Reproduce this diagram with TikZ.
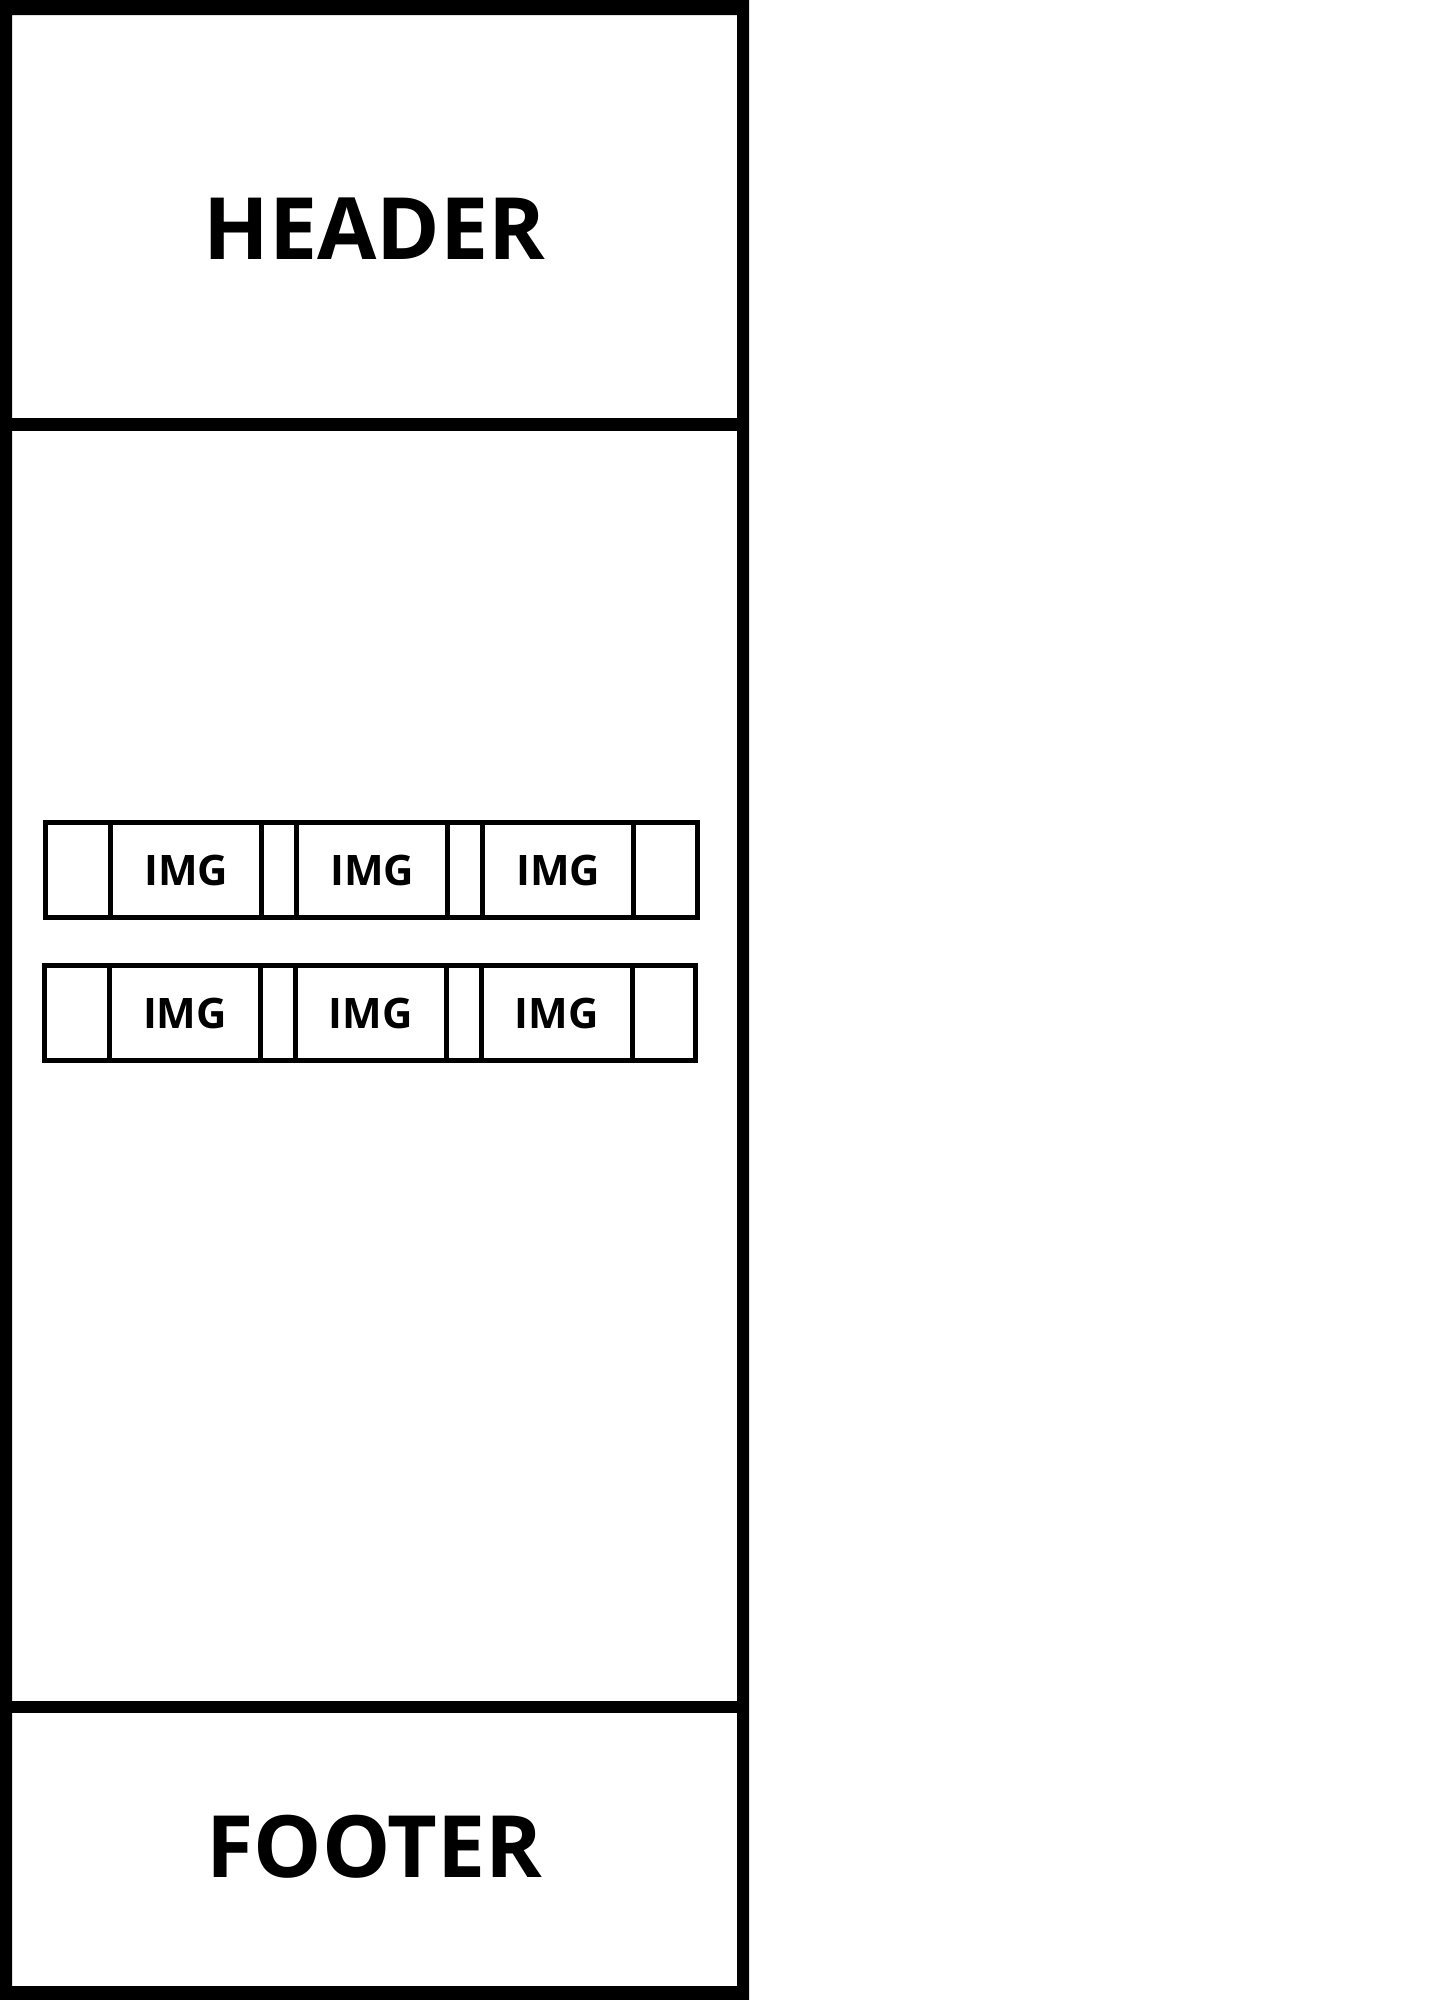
\documentclass[tikz,border=0pt]{standalone}
\usepackage{fontspec}
\setmainfont{Open Sans}
\begin{document}
\begin{tikzpicture}[x=1pt,y=-1pt,
  bigtext/.style={inner sep=0pt,font=\fontsize{86}{86}\selectfont\bfseries},
  imgbox/.style={draw,line width=5pt,minimum width=151pt,minimum height=95pt,inner sep=0pt,
    font=\fontsize{42}{42}\selectfont\bfseries},
  rowframe/.style={draw,line width=5pt}]
\useasboundingbox (0,0) rectangle (1428,2000);
% outer frame
\fill[even odd rule] (0,0) rectangle (749,2000) (12,15) rectangle (737,1986);
% dividers
\fill (12,418) rectangle (737,431);
\fill (12,1701) rectangle (737,1713);
% labels
\node[bigtext] (header) at (374.5,228.5) {HEADER};
\node[bigtext] (footer) at (374.5,1846.5) {FOOTER};
% row 1
\draw[rowframe] (45.8,822.5) rectangle (697.5,917.5);
\node[imgbox] (a1) at (186.15,870) {IMG};
\node[imgbox] (a2) at (372.25,870) {IMG};
\node[imgbox] (a3) at (558.25,870) {IMG};
% row 2
\draw[rowframe] (44.2,965.8) rectangle (695.2,1060.8);
\node[imgbox] (b1) at (185,1013.3) {IMG};
\node[imgbox] (b2) at (370.8,1013.3) {IMG};
\node[imgbox] (b3) at (556.65,1013.3) {IMG};
\end{tikzpicture}
\end{document}
